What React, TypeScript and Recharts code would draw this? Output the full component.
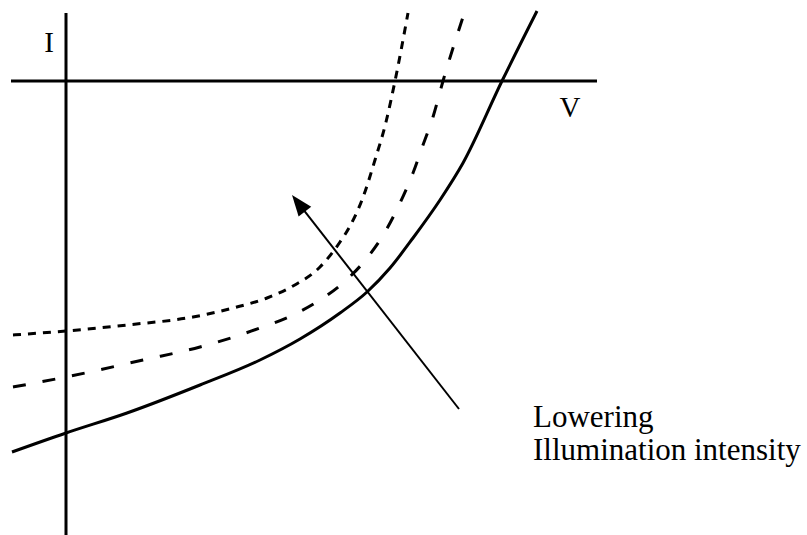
import React from "react";
import {
  LineChart,
  Line,
  XAxis,
  YAxis,
  ReferenceLine,
  ReferenceDot,
} from "recharts";

// Voltage / current pairs for the three illumination levels (arbitrary units)
const fullV = [-0.54, 0, 0.61, 1.34, 1.94, 2.34, 2.74, 3.01, 3.24, 3.47, 3.74, 3.97, 4.36, 4.71];
const fullI = [-3.71, -3.52, -3.32, -3.04, -2.79, -2.58, -2.32, -2.11, -1.87, -1.57, -1.19, -0.82, 0, 0.7];

const mediumV = [-0.53, 0, 0.77, 1.34, 1.94, 2.27, 2.54, 2.77, 3.01, 3.19, 3.34, 3.47, 3.57, 3.67, 3.77, 3.97];
const mediumI = [-3.06, -2.96, -2.79, -2.66, -2.47, -2.34, -2.19, -2.02, -1.77, -1.51, -1.22, -0.92, -0.64, -0.36, 0, 0.64];

const lowV = [-0.53, 0, 0.61, 1.27, 1.67, 2.01, 2.27, 2.54, 2.74, 2.84, 2.96, 3.09, 3.2, 3.29, 3.42];
const lowI = [-2.54, -2.5, -2.44, -2.36, -2.27, -2.17, -2.05, -1.86, -1.61, -1.45, -1.19, -0.79, -0.41, 0, 0.68];

const axisLabels = ["I", "V"];
const captionLines = ["Lowering", "Illumination intensity"];

const toPoints = (vs: number[], is: number[]) => vs.map((v, k) => ({ v, i: is[k] }));

const W = 807;
const H = 535;
const X_DOMAIN: [number, number] = [-0.66, 7.41];
const Y_DOMAIN: [number, number] = [-4.54, 0.81];

const font = "'Liberation Serif', 'Times New Roman', serif";

function Arrow(props: any) {
  const { x1, y1, x2, y2 } = props;
  const dx = x2 - x1;
  const dy = y2 - y1;
  const len = Math.hypot(dx, dy) || 1;
  const ux = dx / len;
  const uy = dy / len;
  const head = 21;
  const half = 8;
  const bx = x2 - ux * head;
  const by = y2 - uy * head;
  return (
    <g>
      <line x1={x1} y1={y1} x2={x2 - ux * head * 0.7} y2={y2 - uy * head * 0.7} stroke="#000" strokeWidth={2} />
      <polygon
        points={`${x2},${y2} ${bx - uy * half},${by + ux * half} ${bx + uy * half},${by - ux * half}`}
        fill="#000"
      />
    </g>
  );
}

const textShape = (lines: string[], size: number, anchor: "start" | "middle", gap: number) =>
  (props: any) => (
    <text
      x={props.cx}
      y={props.cy}
      textAnchor={anchor}
      fontFamily={font}
      fontSize={size}
      fill="#000"
    >
      {lines.map((t, k) => (
        <tspan key={t} x={props.cx} dy={k === 0 ? 0 : gap}>
          {t}
        </tspan>
      ))}
    </text>
  );

const curveProps = {
  dataKey: "i",
  type: "monotone" as const,
  stroke: "#000",
  strokeWidth: 3,
  strokeLinecap: "butt" as const,
  dot: false,
  activeDot: false,
  isAnimationActive: false,
};

export default function App() {
  return (
    <div style={{ position: "absolute", left: 0, top: 0, width: W, height: H, background: "#fff" }}>
      <LineChart width={W} height={H} margin={{ top: 0, right: 0, bottom: 0, left: 0 }}>
        <XAxis type="number" dataKey="v" domain={X_DOMAIN} hide />
        <YAxis type="number" domain={Y_DOMAIN} hide />

        {/* V and I axes crossing at the origin */}
        <ReferenceLine
          segment={[{ x: -0.55, y: 0 }, { x: 5.31, y: 0 }]}
          stroke="#000"
          strokeWidth={3}
          ifOverflow="visible"
        />
        <ReferenceLine
          segment={[{ x: 0, y: 0.68 }, { x: 0, y: -4.54 }]}
          stroke="#000"
          strokeWidth={3}
          ifOverflow="visible"
        />

        <Line data={toPoints(fullV, fullI)} {...curveProps} />
        <Line data={toPoints(mediumV, mediumI)} {...curveProps} strokeDasharray="13 17" />
        <Line data={toPoints(lowV, lowI)} {...curveProps} strokeDasharray="8 7" />

        {/* arrow pointing toward lower illumination */}
        <ReferenceLine
          segment={[{ x: 3.93, y: -3.28 }, { x: 2.26, y: -1.14 }]}
          shape={Arrow}
          ifOverflow="visible"
        />

        <ReferenceDot x={-0.17} y={0.29} r={0} ifOverflow="visible" shape={textShape([axisLabels[0]], 29, "middle", 0)} />
        <ReferenceDot x={5.04} y={-0.36} r={0} ifOverflow="visible" shape={textShape([axisLabels[1]], 29, "middle", 0)} />
        <ReferenceDot x={4.67} y={-3.46} r={0} ifOverflow="visible" shape={textShape(captionLines, 31, "start", 33)} />
      </LineChart>
    </div>
  );
}
